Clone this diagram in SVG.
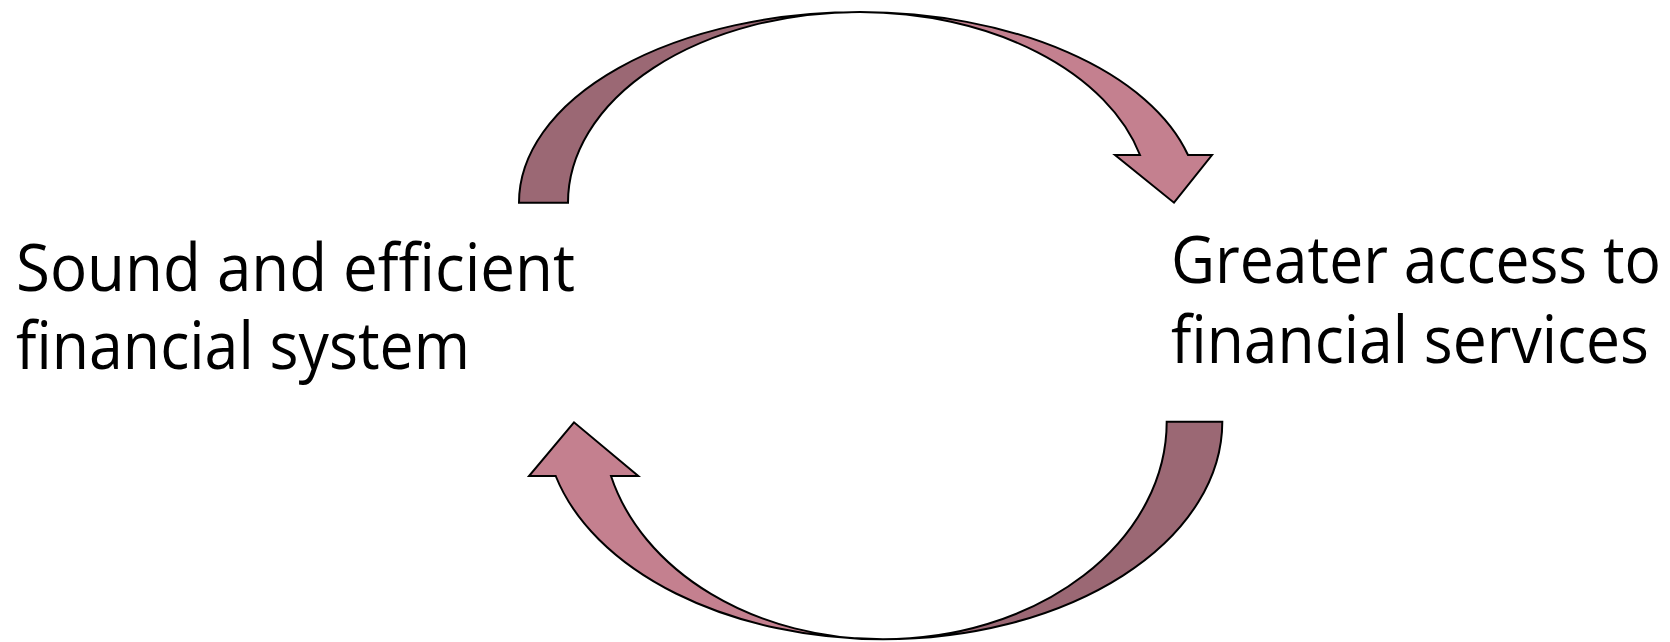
<svg xmlns="http://www.w3.org/2000/svg" width="1670" height="642" viewBox="0 0 1670 642">
<style>
.dark{fill:#9B6874;stroke:#000;stroke-width:2;stroke-linejoin:miter}
.light{fill:#C4808F;stroke:#000;stroke-width:2;stroke-linejoin:miter}
.lbl{font-family:"Open Sans","Noto Sans","Liberation Sans",sans-serif;font-size:66px;fill:#000}
</style>
<rect width="1670" height="642" fill="#fff"/>
<g id="connectors">
<g id="arrow-top">
<path class="dark" d="M 519,202.7 A 341,190.7 0 0 1 860,12 A 292,190.7 0 0 0 568,202.7 Z"/>
<path class="light" d="M 860,12 A 340,190.7 0 0 1 1188,155 L 1212,155 L 1174,202.7 L 1115,155 L 1140,155 A 290,190.7 0 0 0 860,12 Z"/>
</g>
<g id="arrow-bottom">
<path class="dark" d="M 1222.3,421.7 A 339.3,217.6 0 0 1 883,639.3 A 283.7,217.6 0 0 0 1166.7,421.7 Z"/>
<path class="light" d="M 883,639.3 A 339,217.6 0 0 1 555.7,476 L 529,476 L 574,422.3 L 638.3,476 L 611,476 A 280,217.6 0 0 0 883,639.3 Z"/>
</g>
</g>
<g id="node-sound">
<text class="lbl" x="16" y="291" textLength="559" lengthAdjust="spacingAndGlyphs">Sound and efficient</text>
<text class="lbl" x="16" y="369" textLength="454" lengthAdjust="spacingAndGlyphs">financial system</text>
</g>
<g id="node-access">
<text class="lbl" x="1171" y="283" textLength="490" lengthAdjust="spacingAndGlyphs">Greater access to</text>
<text class="lbl" x="1171" y="363" textLength="478" lengthAdjust="spacingAndGlyphs">financial services</text>
</g>
</svg>
